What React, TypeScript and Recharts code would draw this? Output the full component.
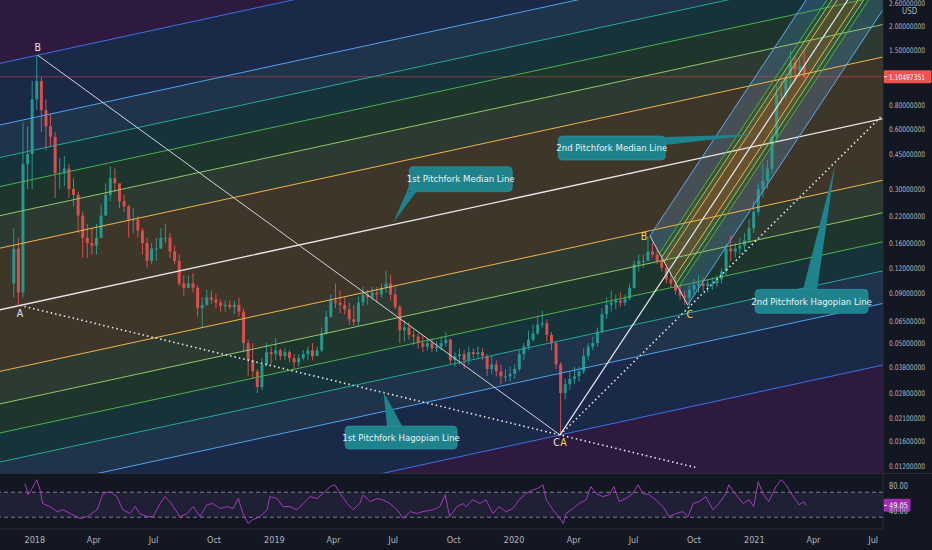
import React from 'react';
import {
  ComposedChart, LineChart, Bar, Line, Area, XAxis, YAxis,
  ReferenceDot, ReferenceLine, ReferenceArea,
} from 'recharts';

const FONT = "'Liberation Sans Narrow', 'DejaVu Sans Condensed', 'Liberation Sans', sans-serif";
const BG = '#131722';
const AXIS_TEXT = '#b2b5be';
const UP = '#26a69a';
const DOWN = '#ef5350';
const CALLOUT = '#1f838e';

// weekly candles, x = days from 2018-01-01
const weekDays = [-32,-25,-18,-11,-4,3,10,17,24,31,38,45,52,59,66,73,80,87,94,101,108,115,122,129,136,143,150,157,164,171,178,185,192,199,206,213,220,227,234,241,248,255,262,269,276,283,290,297,304,311,318,325,332,339,346,353,360,367,374,381,388,395,402,409,416,423,430,437,444,451,458,465,472,479,486,493,500,507,514,521,528,535,542,549,556,563,570,577,584,591,598,605,612,619,626,633,640,647,654,661,668,675,682,689,696,703,710,717,724,731,738,745,752,759,766,773,780,787,794,801,808,815,822,829,836,843,850,857,864,871,878,885,892,899,906,913,920,927,934,941,948,955,962,969,976,983,990,997,1004,1011,1018,1025,1032,1039,1046,1053,1060,1067,1074,1081,1088,1095,1102,1109,1116,1123,1130,1137,1144,1151,1158,1165,1172];
const firstOpen = 0.1;
const closes = [0.15,0.09,0.40,0.45,0.85,1.05,0.75,0.62,0.55,0.36,
  0.36,0.38,0.30,0.28,0.22,0.17,0.16,0.155,0.17,0.22,
  0.28,0.34,0.32,0.26,0.245,0.21,0.21,0.185,0.16,0.13,
  0.15,0.15,0.17,0.17,0.145,0.13,0.10,0.095,0.10,0.095,
  0.075,0.078,0.085,0.083,0.08,0.077,0.078,0.076,0.078,0.072,
  0.05,0.041,0.036,0.030,0.039,0.045,0.044,0.046,0.043,0.045,
  0.042,0.040,0.042,0.044,0.046,0.043,0.046,0.056,0.068,0.082,
  0.08,0.078,0.074,0.066,0.064,0.08,0.088,0.085,0.09,0.088,
  0.095,0.10,0.088,0.076,0.058,0.06,0.055,0.054,0.05,0.048,
  0.05,0.047,0.048,0.05,0.052,0.041,0.043,0.044,0.041,0.045,
  0.044,0.045,0.043,0.037,0.039,0.036,0.034,0.034,0.035,0.037,
  0.044,0.048,0.052,0.056,0.062,0.063,0.055,0.05,0.039,0.028,
  0.031,0.033,0.034,0.036,0.043,0.048,0.05,0.057,0.07,0.078,
  0.08,0.082,0.08,0.084,0.095,0.125,0.13,0.13,0.145,0.14,
  0.13,0.12,0.105,0.10,0.092,0.087,0.085,0.093,0.098,0.10,
  0.097,0.10,0.10,0.105,0.115,0.15,0.145,0.15,0.155,0.165,
  0.19,0.23,0.30,0.33,0.38,0.55,0.90,0.90,1.10,1.30,
  1.20,1.25,1.105];
const highs = [0.19,0.17,0.65,0.62,1.05,1.42,1.10,0.85,0.72,0.58,
  0.43,0.44,0.40,0.34,0.29,0.23,0.20,0.19,0.20,0.25,
  0.32,0.39,0.38,0.32,0.28,0.25,0.24,0.22,0.19,0.17,
  0.16,0.17,0.19,0.20,0.18,0.155,0.14,0.11,0.11,0.113,
  0.098,0.085,0.093,0.092,0.088,0.083,0.082,0.082,0.082,0.085,
  0.075,0.052,0.05,0.037,0.042,0.05,0.048,0.053,0.047,0.047,
  0.046,0.044,0.044,0.046,0.048,0.05,0.048,0.06,0.073,0.088,
  0.10,0.092,0.085,0.08,0.078,0.086,0.096,0.093,0.096,0.096,
  0.10,0.116,0.11,0.096,0.078,0.065,0.064,0.058,0.056,0.055,
  0.053,0.053,0.051,0.054,0.057,0.053,0.045,0.047,0.046,0.048,
  0.047,0.048,0.047,0.044,0.043,0.041,0.039,0.037,0.038,0.039,
  0.046,0.05,0.058,0.062,0.069,0.073,0.066,0.057,0.051,0.04,
  0.033,0.036,0.038,0.038,0.047,0.05,0.054,0.06,0.075,0.085,
  0.092,0.088,0.09,0.088,0.10,0.13,0.14,0.14,0.173,0.16,
  0.15,0.14,0.125,0.115,0.108,0.098,0.092,0.098,0.105,0.11,
  0.107,0.105,0.108,0.11,0.12,0.16,0.175,0.16,0.17,0.18,
  0.21,0.26,0.32,0.40,0.42,0.60,1.0,1.05,1.15,1.50,
  1.40,1.35,1.50];
const lows = [0.085,0.0775,0.085,0.30,0.30,0.75,0.58,0.47,0.49,0.27,
  0.30,0.31,0.27,0.245,0.18,0.135,0.135,0.14,0.14,0.17,
  0.22,0.26,0.29,0.24,0.23,0.17,0.18,0.17,0.14,0.12,
  0.125,0.13,0.15,0.16,0.135,0.125,0.097,0.087,0.095,0.09,
  0.068,0.06,0.077,0.079,0.075,0.072,0.072,0.074,0.07,0.068,
  0.045,0.034,0.033,0.028,0.029,0.038,0.039,0.041,0.041,0.041,
  0.040,0.037,0.038,0.041,0.041,0.041,0.043,0.045,0.055,0.067,
  0.075,0.071,0.07,0.062,0.061,0.061,0.077,0.078,0.082,0.08,
  0.085,0.09,0.082,0.074,0.05,0.051,0.052,0.049,0.047,0.045,
  0.046,0.045,0.045,0.046,0.048,0.039,0.038,0.039,0.037,0.039,
  0.042,0.042,0.041,0.034,0.035,0.034,0.031,0.032,0.032,0.033,
  0.036,0.041,0.046,0.051,0.055,0.06,0.051,0.046,0.037,0.0172,
  0.026,0.029,0.031,0.032,0.035,0.041,0.046,0.048,0.056,0.066,
  0.072,0.074,0.076,0.077,0.082,0.094,0.115,0.12,0.13,0.135,
  0.125,0.115,0.10,0.095,0.088,0.083,0.078,0.076,0.088,0.09,
  0.092,0.09,0.093,0.096,0.10,0.11,0.13,0.135,0.14,0.145,
  0.16,0.18,0.22,0.27,0.30,0.36,0.52,0.80,0.85,1.0,
  1.05,1.10,1.08];

// RSI panel
const rsiDays = [-15,-10,-4,3,8,12,23,34,43,54,69,80,95,104,115,125,134,145,153,160,171,180,191,198,206,211,221,232,241,252,262,271,282,293,302,310,317,325,332,343,354,358,369,378,389,399,409,419,430,439,450,457,465,476,485,495,500,511,521,530,541,552,561,572,582,591,607,617,625,632,643,652,657,667,678,687,698,707,718,728,738,748,759,766,774,779,789,798,805,809,820,829,840,847,855,865,875,882,890,900,911,919,926,936,946,957,966,977,987,995,1003,1012,1022,1033,1042,1053,1057,1068,1079,1088,1095,1102,1109,1118,1129,1137,1144,1152,1159,1164,1172,1175];
const rsiValues = [84,66,76,90,74,52,47,39,42,36,28,31,42,68,71,63,42,36,47,36,31,31,52,63,55,47,31,36,47,31,50,52,44,47,44,60,36,20,26,31,42,63,60,47,47,42,52,63,60,68,79,82,68,52,42,52,66,55,60,58,52,42,28,39,36,39,42,47,66,31,47,52,47,58,52,58,36,47,39,44,58,68,74,76,82,58,42,31,20,36,44,52,58,79,68,63,66,79,55,60,68,82,68,66,58,47,31,36,39,31,52,55,63,42,52,68,82,66,52,58,47,87,68,55,79,90,82,68,58,50,55,49.05];

const timeTicks = [0, 90, 181, 273, 365, 455, 546, 638, 730, 821, 912, 1004, 1096, 1186, 1277];
const timeTickLabels = ['2018', 'Apr', 'Jul', 'Oct', '2019', 'Apr', 'Jul', 'Oct', '2020', 'Apr', 'Jul', 'Oct', '2021', 'Apr', 'Jul'];
const priceTicks = [2.6, 2.0, 1.5, 0.8, 0.6, 0.45, 0.3, 0.22, 0.16, 0.12, 0.09, 0.065, 0.05, 0.038, 0.028, 0.021, 0.016, 0.012];
const rsiTicks = [80, 40];
const lastPrice = 1.10497351;
const lastRsi = 49.05;

// pitchfork anchors (day, price)
type Pt = { t: number; p: number };
const fork1A: Pt = { t: -22.5, p: 0.0775 };
const fork1B: Pt = { t: 4.4, p: 1.42 };
const fork1C: Pt = { t: 800, p: 0.0172 };
const fork2A: Pt = fork1C;
const fork2B: Pt = { t: 937, p: 0.1737 };
const fork2C: Pt = { t: 994.5, p: 0.0779 };
const fork1Levels = [0.25, 0.382, 0.5, 0.618, 0.75, 1, 2];
const fork1Colors = ['#f0b54a', '#8fc76e', '#4caf50', '#26a69a', '#4fa3ec', '#3a72e0', '#9c27b0'];
const fork2Levels = [0.25, 0.382, 0.5, 1];
const fork2Colors = ['#f0b54a', '#8fc76e', '#4caf50', '#5fa8ee'];
const hagopian2End: Pt = { t: 1290, p: 0.7 };
const hagopian1EndDay = 1006;

const callouts = [
  { text: '1st Pitchfork Median Line', tip: { t: 546, p: 0.2027 } },
  { text: '2nd Pitchfork Median Line', tip: { t: 1102, p: 0.566 } },
  { text: '2nd Pitchfork Hagopian Line', tip: { t: 1219, p: 0.396 } },
  { text: '1st Pitchfork Hagopian Line', tip: { t: 531, p: 0.0284 } },
];
// box [dx, dy, w, h] and tail points, relative to the tip
const calloutLayout = [
  { box: [16, -56, 103, 25], tail: [[16, -37], [16, -31], [23, -31]] },
  { box: [-200, 1.7, 107, 24], tail: [[-93, 2.7], [-93, 10.7]] },
  { box: [-80, 124.3, 113, 24], tail: [[-32, 124.3], [-18, 124.3]] },
  { box: [-38.3, 34.3, 112, 23], tail: [[3.7, 34.3], [18.7, 34.3]] },
];

const candles = weekDays.map((t, i) => ({
  t,
  open: i === 0 ? firstOpen : closes[i - 1],
  close: closes[i],
  high: highs[i],
  low: lows[i],
}));
const rsiData = rsiDays.map((t, i) => ({ t, v: rsiValues[i] }));

// pitchfork geometry in (day, ln price)
const makeFork = (a: Pt, b: Pt, c: Pt) => {
  const A = { t: a.t, u: Math.log(a.p) };
  const B = { t: b.t, u: Math.log(b.p) };
  const C = { t: c.t, u: Math.log(c.p) };
  const M = { t: (B.t + C.t) / 2, u: (B.u + C.u) / 2 };
  const d = { t: M.t - A.t, u: M.u - A.u };
  const start = (k: number) => ({ t: M.t + k * (B.t - M.t), u: M.u + k * (B.u - M.u) });
  const at = (k: number, t: number) => {
    const s = start(k);
    return s.u + ((t - s.t) / d.t) * d.u;
  };
  return { A, start, at };
};
const f1 = makeFork(fork1A, fork1B, fork1C);
const f2 = makeFork(fork2A, fork2B, fork2C);
const T0 = -60;
const T1 = 1300;
const TE = 1450;

const fork1Lines = [0, ...fork1Levels.slice(0, -1), ...fork1Levels.slice(0, -1).map((k) => -k)].map((k) => ({
  k,
  color: k === 0 ? '#e8e8e8' : fork1Colors[fork1Levels.indexOf(Math.abs(k))],
  data: [{ t: T0, p: Math.exp(f1.at(k, T0)) }, { t: T1, p: Math.exp(f1.at(k, T1)) }],
}));
const fork1Bands: { key: string; color: string; data: any[] }[] = [];
fork1Levels.forEach((k, i) => {
  const prev = i === 0 ? 0 : fork1Levels[i - 1];
  [1, -1].forEach((s) => {
    fork1Bands.push({
      key: `b1-${i}-${s}`,
      color: fork1Colors[i],
      data: [T0, T1].map((t) => ({ t, r: [Math.exp(f1.at(s * prev, t)), Math.exp(f1.at(s * k, t))] })),
    });
  });
});

const band2 = (ka: number, kb: number) => {
  const sa = f2.start(ka);
  const sb = f2.start(kb);
  return [
    { t: sa.t, r: [Math.exp(sa.u), Math.exp(sa.u)] },
    { t: sb.t, r: [Math.exp(sb.u), Math.exp(f2.at(ka, sb.t))] },
    { t: TE, r: [Math.exp(f2.at(kb, TE)), Math.exp(f2.at(ka, TE))] },
  ];
};
const fork2Bands: { key: string; color: string; data: any[] }[] = [];
fork2Levels.forEach((k, i) => {
  const prev = i === 0 ? 0 : fork2Levels[i - 1];
  fork2Bands.push({ key: `b2-${i}-u`, color: fork2Colors[i], data: band2(k, prev) });
  fork2Bands.push({ key: `b2-${i}-d`, color: fork2Colors[i], data: band2(-prev, -k) });
});
const fork2Lines = [...fork2Levels, ...fork2Levels.map((k) => -k)].map((k) => {
  const s = f2.start(k);
  return {
    k,
    color: fork2Colors[fork2Levels.indexOf(Math.abs(k))],
    data: [{ t: s.t, p: Math.exp(s.u) }, { t: TE, p: Math.exp(f2.at(k, TE)) }],
  };
});
const fork2Median = [fork2A, { t: TE, p: Math.exp(f2.at(0, TE)) }];
const hagopian1 = [
  fork1A,
  {
    t: hagopian1EndDay,
    p: Math.exp(Math.log(fork1A.p) + ((hagopian1EndDay - fork1A.t) / (fork1C.t - fork1A.t)) * (Math.log(fork1C.p) - Math.log(fork1A.p))),
  },
];
const hagopian2 = [fork2A, hagopian2End];

const pointLabels = [
  { text: 'A', at: fork1A, dx: 0, dy: 12, color: '#e0e3eb' },
  { text: 'B', at: fork1B, dx: 0, dy: -4, color: '#e0e3eb' },
  { text: 'C', at: fork1C, dx: -3.5, dy: 11, color: '#e0e3eb' },
  { text: 'A', at: fork2A, dx: 3.5, dy: 11, color: '#f2d64b' },
  { text: 'B', at: fork2B, dx: -6, dy: 4, color: '#f2d64b' },
  { text: 'C', at: fork2C, dx: 2, dy: 13, color: '#f2d64b' },
];

const Candle = (props: any) => {
  const { x, y, width, height, payload } = props;
  if (!payload || y == null || height == null) return null;
  const top = Math.min(y, y + height);
  const bot = Math.max(y, y + height);
  const lh = Math.log(payload.high);
  const ll = Math.log(payload.low);
  const py = (v: number) => top + ((lh - Math.log(v)) / (lh - ll || 1)) * (bot - top);
  const color = payload.close >= payload.open ? UP : DOWN;
  const cx = x + width / 2;
  const y1 = py(Math.max(payload.open, payload.close));
  const y2 = py(Math.min(payload.open, payload.close));
  return (
    <g opacity={0.88}>
      <line x1={cx} x2={cx} y1={top} y2={bot} stroke={color} strokeWidth={1} />
      <rect x={cx - 1.5} y={y1} width={3} height={Math.max(1, y2 - y1)} fill={color} />
    </g>
  );
};

// axis labels squeezed to the narrow width of the reference's axis font
const PriceTick = ({ x, y, payload }: any) => (
  <text x={x - 2} y={y} dy={3} fill={AXIS_TEXT} fontSize={7.6} fontFamily={FONT} textLength={36} lengthAdjust="spacingAndGlyphs">
    {payload.value.toFixed(8)}
  </text>
);
const RsiTick = ({ x, y, payload }: any) => (
  <text x={x - 2} y={y} dy={3} fill={AXIS_TEXT} fontSize={8} fontFamily={FONT} textLength={19} lengthAdjust="spacingAndGlyphs">
    {payload.value.toFixed(2)}
  </text>
);
const TimeTick = ({ x, y, payload }: any) => (
  <text x={x} y={y} dy={6} textAnchor="middle" fill={AXIS_TEXT} fontSize={9} fontFamily={FONT}>
    {timeTickLabels[timeTicks.indexOf(payload.value)]}
  </text>
);

const Tag = ({ viewBox, text, color, w, tw }: any) => {
  if (!viewBox) return null;
  const x = viewBox.x + viewBox.width;
  const y = viewBox.y;
  return (
    <g>
      <rect x={x + 0.5} y={y - 6.5} width={w} height={13} fill={color} rx={1.5} />
      <line x1={x + 1} x2={x + 4} y1={y} y2={y} stroke="#ffffff" strokeWidth={1} />
      <text x={x + 6} y={y} dy={3} fill="#ffffff" fontSize={7.6} fontFamily={FONT} textLength={tw} lengthAdjust="spacingAndGlyphs">
        {text}
      </text>
    </g>
  );
};

const Callout = ({ cx, cy, text, lay }: any) => {
  const [bx, by, bw, bh] = lay.box;
  const pts = [[0, 0], ...lay.tail].map(([px, py]: number[]) => `${cx + px},${cy + py}`).join(' ');
  return (
    <g>
      <polygon points={pts} fill={CALLOUT} />
      <rect x={cx + bx} y={cy + by} width={bw} height={bh} rx={4} fill={CALLOUT} stroke="#2a9ca6" strokeWidth={0.6} />
      <text x={cx + bx + bw / 2} y={cy + by + bh / 2} dy={3.3} textAnchor="middle" fill="#e9f3f4" fontSize={9.5} fontFamily={FONT}>
        {text}
      </text>
    </g>
  );
};

export default function App() {
  return (
    <div style={{ position: 'absolute', left: 0, top: 0, width: 932, height: 550, background: BG, overflow: 'hidden' }}>
      <div style={{ position: 'absolute', left: 0, top: 0 }}>
        <ComposedChart width={932} height={473} data={candles} margin={{ top: 0, right: 0, bottom: 0, left: 0 }}>
          <XAxis dataKey="t" type="number" domain={[-53, 1292]} allowDataOverflow hide height={0} />
          <YAxis
            orientation="right"
            width={49}
            scale="log"
            domain={[0.011054, 2.696]}
            allowDataOverflow
            ticks={priceTicks}
            tick={<PriceTick />}
            tickLine={false}
            axisLine={{ stroke: '#2a2e39' }}
            interval={0}
          />
          {fork1Bands.map((b) => (
            <Area key={b.key} data={b.data} dataKey="r" type="linear" stroke="none" fill={b.color} fillOpacity={0.2} isAnimationActive={false} activeDot={false} />
          ))}
          {fork2Bands.map((b) => (
            <Area key={b.key} data={b.data} dataKey="r" type="linear" stroke="none" fill={b.color} fillOpacity={0.22} isAnimationActive={false} activeDot={false} />
          ))}
          <Bar dataKey={(d: any) => [d.low, d.high]} barSize={3} shape={(p: any) => <Candle {...p} />} isAnimationActive={false} />
          <ReferenceLine
            y={lastPrice}
            stroke={DOWN}
            strokeOpacity={0.45}
            label={(p: any) => <Tag viewBox={p.viewBox} text={lastPrice.toFixed(8)} color="#ef5350" w={48} tw={36} />}
          />
          {fork1Lines.map((l) => (
            <Line key={`l1-${l.k}`} data={l.data} dataKey="p" type="linear" stroke={l.color} strokeWidth={l.k === 0 ? 1.3 : 1} dot={false} activeDot={false} isAnimationActive={false} />
          ))}
          {fork2Lines.map((l) => (
            <Line key={`l2-${l.k}`} data={l.data} dataKey="p" type="linear" stroke={l.color} strokeWidth={1} dot={false} activeDot={false} isAnimationActive={false} />
          ))}
          <Line data={fork2Median} dataKey="p" type="linear" stroke="#e8e8e8" strokeWidth={1.2} dot={false} activeDot={false} isAnimationActive={false} />
          <Line data={[fork1B, fork1C]} dataKey="p" type="linear" stroke="#d1d4dc" strokeWidth={1} dot={false} activeDot={false} isAnimationActive={false} />
          <Line data={[fork2B, fork2C]} dataKey="p" type="linear" stroke="#d1d4dc" strokeWidth={1} dot={false} activeDot={false} isAnimationActive={false} />
          <Line data={hagopian1} dataKey="p" type="linear" stroke="#e8e8e8" strokeWidth={1.6} strokeDasharray="1.5 3" dot={false} activeDot={false} isAnimationActive={false} />
          <Line data={hagopian2} dataKey="p" type="linear" stroke="#e8e8e8" strokeWidth={1.6} strokeDasharray="1.5 3" dot={false} activeDot={false} isAnimationActive={false} />
          {pointLabels.map((l, i) => (
            <ReferenceDot
              key={`pl-${i}`}
              x={l.at.t}
              y={l.at.p}
              r={0}
              ifOverflow="visible"
              shape={(p: any) => (
                <text x={p.cx + l.dx} y={p.cy + l.dy} textAnchor="middle" fill={l.color} fontSize={10.5} fontFamily={FONT}>
                  {l.text}
                </text>
              )}
            />
          ))}
          {callouts.map((c, i) => (
            <ReferenceDot
              key={`co-${i}`}
              x={c.tip.t}
              y={c.tip.p}
              r={0}
              ifOverflow="visible"
              shape={(p: any) => <Callout cx={p.cx} cy={p.cy} text={c.text} lay={calloutLayout[i]} />}
            />
          ))}
        </ComposedChart>
      </div>
      <div style={{ position: 'absolute', left: 900, top: 7, fontSize: 8, color: AXIS_TEXT, fontFamily: FONT, background: BG, padding: '0 2px', lineHeight: '10px' }}>
        USD
      </div>
      <div style={{ position: 'absolute', left: 0, top: 473, width: 932, height: 1, background: '#2a2e39' }} />
      <div style={{ position: 'absolute', left: 0, top: 474 }}>
        <LineChart width={932} height={76} data={rsiData} margin={{ top: 0, right: 0, bottom: 0, left: 0 }}>
          <XAxis
            dataKey="t"
            type="number"
            domain={[-53, 1292]}
            allowDataOverflow
            ticks={timeTicks}
            interval={0}
            height={21}
            tick={<TimeTick />}
            tickLine={false}
            axisLine={{ stroke: '#2a2e39' }}
          />
          <YAxis
            orientation="right"
            width={49}
            domain={[11.2, 99.2]}
            allowDataOverflow
            ticks={rsiTicks}
            interval={0}
            tick={<RsiTick />}
            tickLine={false}
            axisLine={{ stroke: '#2a2e39' }}
          />
          <ReferenceArea y1={30} y2={70} fill="#7e57c2" fillOpacity={0.12} stroke="none" />
          <ReferenceLine y={70} stroke="#9598a1" strokeDasharray="4 3" strokeOpacity={0.8} />
          <ReferenceLine y={30} stroke="#9598a1" strokeDasharray="4 3" strokeOpacity={0.8} />
          <Line dataKey="v" type="linear" stroke="#a43bbd" strokeWidth={1} dot={false} activeDot={false} isAnimationActive={false} />
          <ReferenceLine
            y={lastRsi}
            stroke="none"
            label={(p: any) => <Tag viewBox={p.viewBox} text={lastRsi.toFixed(2)} color="#a02bb0" w={27} tw={19} />}
          />
        </LineChart>
      </div>
    </div>
  );
}
